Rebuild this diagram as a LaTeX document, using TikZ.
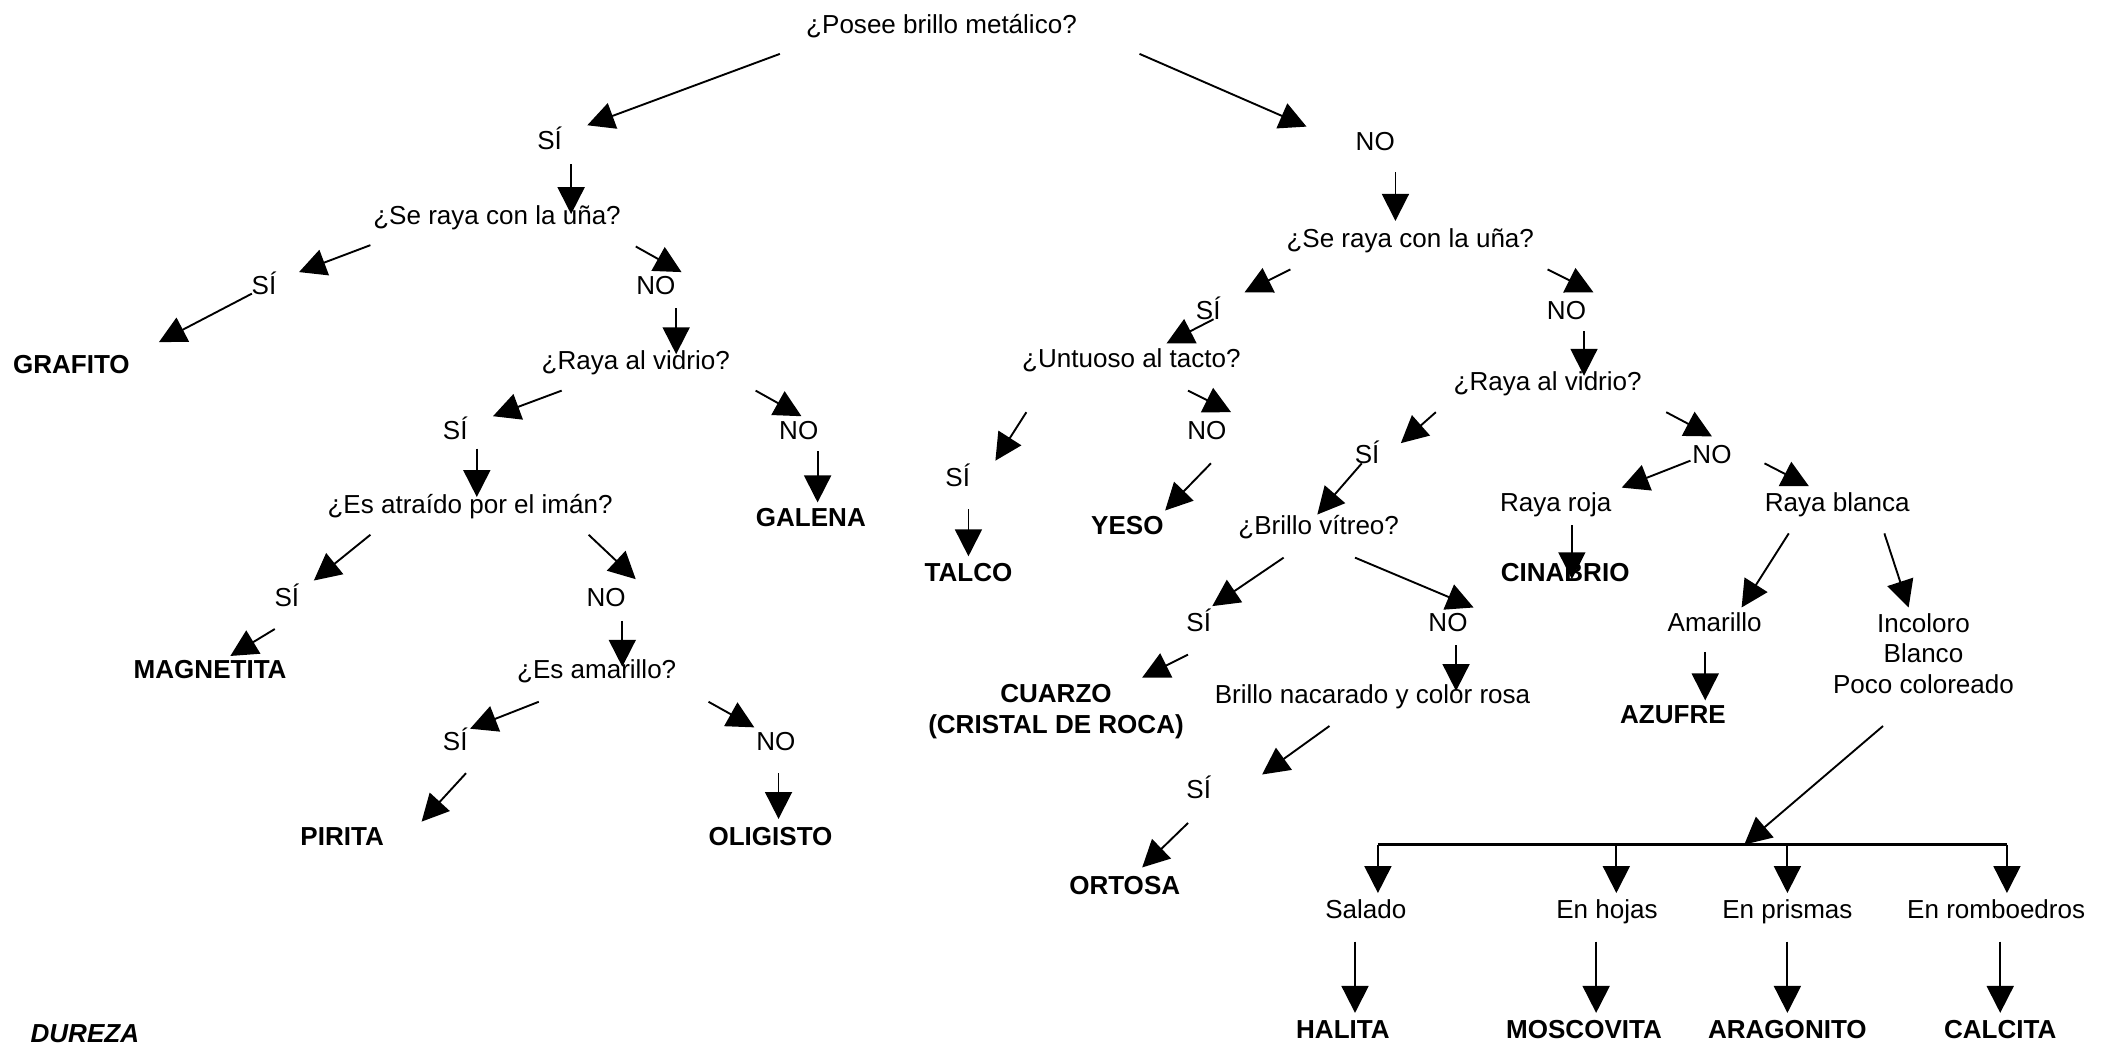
\documentclass[tikz,border=0pt]{standalone}
\usepackage{fontspec}
\setmainfont{Liberation Sans}
\usetikzlibrary{arrows.meta}
\newcommand\conn[3]{\coordinate (#1s) at (#2); \coordinate (#1e) at (#3); \draw[ar] (#1s) -- (#1e);}
\begin{document}
\begin{tikzpicture}[x=0.02cm,y=-0.02cm,
 t/.style={anchor=base,inner sep=0pt,font=\fontsize{11}{13}\selectfont},
 b/.style={anchor=base,inner sep=0pt,font=\fontsize{11}{13}\selectfont\bfseries},
 ml/.style={anchor=north,inner sep=0pt,align=center,font=\fontsize{11}{13}\selectfont},
 ar/.style={line width=0.8pt,-{Triangle[length=0.4cm,width=0.4cm]}}]
\useasboundingbox (0,0) rectangle (1568,775);
% ---- texts, left ----
\node[t] (q0) at (699,25) {¿Posee brillo metálico?};
\node[t] (si1) at (408,111) {SÍ};
\node[t] (no1) at (1021,112) {NO};
\node[t] (qL1) at (369,167) {¿Se raya con la uña?};
\node[t] (siL1) at (196,219) {SÍ};
\node[t] (noL1) at (487,219) {NO};
\node[b] (grafito) at (53,277) {GRAFITO};
\node[t] (qL2) at (472,274) {¿Raya al vidrio?};
\node[t] (siL2) at (338,326) {SÍ};
\node[t] (noL2) at (593,326) {NO};
\node[t] (qL3) at (349,381) {¿Es atraído por el imán?};
\node[b] (galena) at (602,391) {GALENA};
\node[t] (siL3) at (213,450) {SÍ};
\node[t] (noL3) at (450,450) {NO};
\node[b] (magnetita) at (156,504) {MAGNETITA};
\node[t] (qL4) at (443,504) {¿Es amarillo?};
\node[t] (siL4) at (338,557) {SÍ};
\node[t] (noL4) at (576,557) {NO};
\node[b] (pirita) at (254,628) {PIRITA};
\node[b] (oligisto) at (572,628) {OLIGISTO};
\node[anchor=base,inner sep=0pt,font=\fontsize{11}{13}\selectfont\bfseries\itshape] (dureza) at (63,774) {DUREZA};
% ---- texts, right ----
\node[t] (qR1) at (1047,184) {¿Se raya con la uña?};
\node[t] (siR1) at (897,237) {SÍ};
\node[t] (noR1) at (1163,237) {NO};
\node[t] (qR2) at (840,273) {¿Untuoso al tacto?};
\node[t] (qR3) at (1149,290) {¿Raya al vidrio?};
\node[t] (siR2) at (711,361) {SÍ};
\node[t] (noR2) at (896,326) {NO};
\node[t] (siR3) at (1015,344) {SÍ};
\node[t] (noR3) at (1271,344) {NO};
\node[b] (talco) at (719,432) {TALCO};
\node[b] (yeso) at (837,397) {YESO};
\node[t] (qR4) at (979,397) {¿Brillo vítreo?};
\node[t] (rroja) at (1155,380) {Raya roja};
\node[t] (rblanca) at (1364,380) {Raya blanca};
\node[b] (cinabrio) at (1162,432) {CINABRIO};
\node[t] (siR4) at (890,469) {SÍ};
\node[t] (noR4) at (1075,469) {NO};
\node[t] (amarillo) at (1273,469) {Amarillo};
\node[ml] (incoloro) at (1428,455) {Incoloro\\Blanco\\Poco coloreado};
\node[ml,font=\fontsize{11}{13}\selectfont\bfseries] (cuarzo) at (784,508) {CUARZO\\(CRISTAL DE ROCA)};
\node[t] (nacarado) at (1019,522) {Brillo nacarado y color rosa};
\node[b] (azufre) at (1242,537) {AZUFRE};
\node[t] (siR5) at (890,593) {SÍ};
\node[b] (ortosa) at (835,664) {ORTOSA};
\node[t] (salado) at (1014,682) {Salado};
\node[t] (hojas) at (1193,682) {En hojas};
\node[t] (prismas) at (1327,682) {En prismas};
\node[t] (romb) at (1482,682) {En romboedros};
\node[b] (halita) at (997,771) {HALITA};
\node[b] (moscovita) at (1176,771) {MOSCOVITA};
\node[b] (aragonito) at (1327,771) {ARAGONITO};
\node[b] (calcita) at (1485,771) {CALCITA};
% ---- connectors, left ----
\conn{a1}{579,40}{436,93}
\conn{a2}{846,40}{970,94}
\conn{a3}{424,122}{424,159}
\conn{a4}{1036,128}{1036,164}
\conn{a5}{275,182}{222,202}
\conn{a6}{472,183}{506,202}
\conn{a7}{187,218}{118,254}
\conn{a8}{502,229}{502,263}
\conn{a9}{417,290}{366,309}
\conn{a10}{561,290}{595,309}
\conn{a11}{354,333}{354,369}
\conn{a12}{607,335}{607,373}
\conn{a13}{275,397}{233,431}
\conn{a14}{437,397}{472,430}
\conn{a15}{204,467}{171,487}
\conn{a16}{462,461}{462,495}
\conn{a17}{400,521}{349,541}
\conn{a18}{526,521}{560,540}
\conn{a19}{346,574}{313,610}
\conn{a20}{578,574}{578,608}
% ---- connectors, right ----
\conn{b1}{958,200}{924,217}
\conn{b2}{1149,200}{1183,217}
\conn{b3}{901,237}{866,255}
\conn{b4}{1176,246}{1176,279}
\conn{b5}{762,306}{739,342}
\conn{b6}{882,290}{914,306}
\conn{b7}{719,378}{719,413}
\conn{b8}{899,344}{865,379}
\conn{b9}{1066,306}{1040,329}
\conn{b10}{1237,306}{1271,324}
\conn{b11}{1011,344}{978,382}
\conn{b12}{1255,342}{1204,362}
\conn{b13}{1310,344}{1343,361}
\conn{b14}{1167,390}{1167,430}
\conn{b15}{1328,396}{1293,451}
\conn{b16}{1399,396}{1417,451}
\conn{b17}{953,414}{900,450}
\conn{b18}{1006,414}{1094,451}
\conn{b19}{882,486}{848,503}
\conn{b20}{1081,479}{1081,513}
\conn{b21}{1266,484}{1266,520}
\conn{b22}{987,539}{937,575}
\conn{b23}{882,611}{848,644}
\conn{b24}{1398,539}{1295,627}
% bar
\coordinate (barL) at (1023,627);
\coordinate (barR) at (1490,627);
\draw[line width=1pt] (barL) -- (barR);
\conn{c1}{1023,627}{1023,663}
\conn{c2}{1200,627}{1200,663}
\conn{c3}{1327,627}{1327,663}
\conn{c4}{1490,627}{1490,663}
\conn{d1}{1006,699}{1006,752}
\conn{d2}{1185,699}{1185,752}
\conn{d3}{1327,699}{1327,752}
\conn{d4}{1485,699}{1485,752}
\end{tikzpicture}
\end{document}
